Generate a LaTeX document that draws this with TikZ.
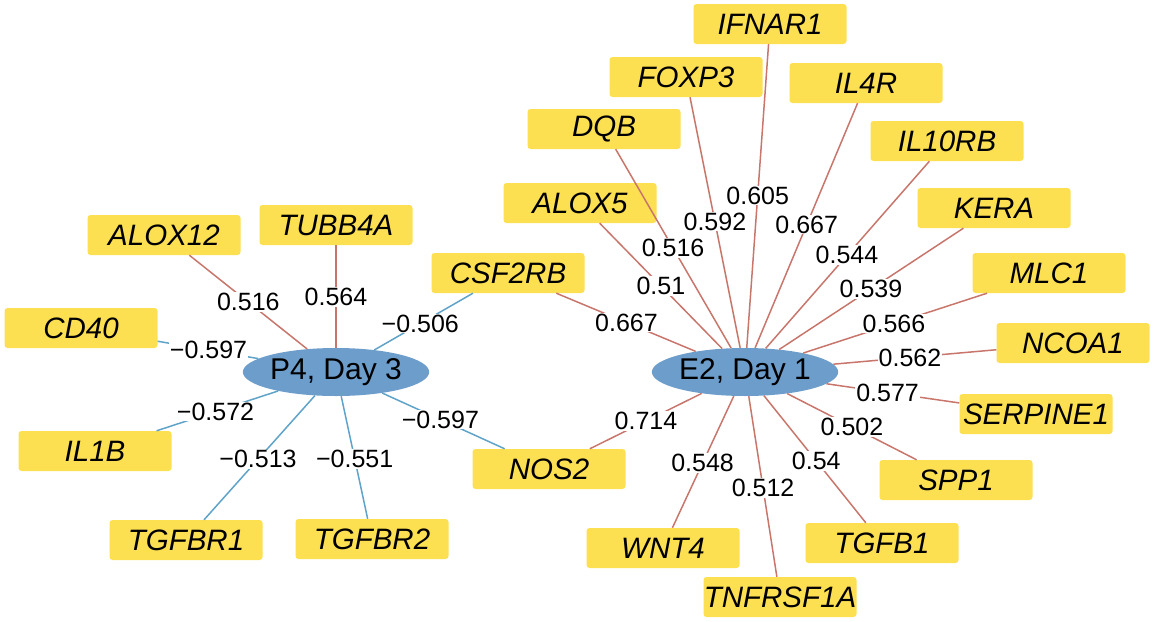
\documentclass[tikz,border=0pt]{standalone}
\usepackage{fontspec}
\setmainfont{Liberation Sans}
\usetikzlibrary{calc,shapes.geometric}
\definecolor{boxy}{RGB}{252,224,82}
\definecolor{elb}{RGB}{108,157,203}
\definecolor{posl}{RGB}{200,118,108}
\definecolor{negl}{RGB}{95,163,201}
\tikzset{
  gene/.style={fill=boxy, rounded corners=3pt, minimum width=153pt, minimum height=40pt, inner sep=0pt,
    font=\fontsize{29.5}{30}\selectfont\itshape},
  hub/.style={ellipse, fill=elb, minimum width=162pt, minimum height=48pt, inner sep=0pt,
    font=\fontsize{30}{31}\selectfont},
  posedge/.style={draw=posl, line width=1.5pt},
  negedge/.style={draw=negl, line width=1.5pt},
  lbl/.style={fill=white, inner sep=1pt, font=\fontsize{25}{26}\selectfont}
}
\begin{document}
\begin{tikzpicture}[x=1pt,y=-1pt]
\useasboundingbox (0,0) rectangle (1156,621);
% hubs
\node[hub] (p4) at (336,372) {P4, Day 3};
\node[hub] (e2) at (745,372) {E2, Day 1};
% left genes
\node[gene] (alox12) at (164,235) {ALOX12};
\node[gene] (tubb4a) at (336,225) {TUBB4A};
\node[gene] (cd40) at (81,328) {CD40};
\node[gene] (il1b) at (95,451) {IL1B};
\node[gene] (tgfbr1) at (186,540) {TGFBR1};
\node[gene] (tgfbr2) at (372,539) {TGFBR2};
\node[gene] (csf2rb) at (508,273) {CSF2RB};
\node[gene] (nos2) at (549,469) {NOS2};
% right genes
\node[gene] (ifnar1) at (770,24) {IFNAR1};
\node[gene] (foxp3) at (686,77) {FOXP3};
\node[gene] (il4r) at (866,83) {IL4R};
\node[gene] (dqb) at (604,129) {DQB};
\node[gene] (il10rb) at (947,141) {IL10RB};
\node[gene] (alox5) at (580,203) {ALOX5};
\node[gene] (kera) at (994,208) {KERA};
\node[gene] (mlc1) at (1049,273) {MLC1};
\node[gene] (ncoa1) at (1073,343) {NCOA1};
\node[gene] (serpine1) at (1036,414) {SERPINE1};
\node[gene] (spp1) at (956,480) {SPP1};
\node[gene] (tgfb1) at (882,543) {TGFB1};
\node[gene] (wnt4) at (663,548) {WNT4};
\node[gene] (tnfrsf1a) at (780,597) {TNFRSF1A};
% edges P4
\draw[posedge] (p4) -- (alox12);
\draw[posedge] (p4) -- (tubb4a);
\draw[negedge] (p4) -- (cd40);
\draw[negedge] (p4) -- (il1b);
\draw[negedge] (p4) -- (tgfbr1);
\draw[negedge] (p4) -- (tgfbr2);
\draw[negedge] (p4) -- (csf2rb);
\draw[negedge] (p4) -- (nos2);
% edges E2
\foreach \g in {csf2rb,nos2,alox5,dqb,foxp3,ifnar1,il4r,il10rb,kera,mlc1,ncoa1,serpine1,spp1,tgfb1,tnfrsf1a,wnt4}
  \draw[posedge] (e2) -- (\g);
% labels P4
\node[lbl] at ($(p4)!0.51!(alox12)$) {0.516};
\node[lbl] at ($(p4)!0.51!(tubb4a)$) {0.564};
\node[lbl] at ($(p4)!0.50!(cd40)$) {−0.597};
\node[lbl] at ($(p4)!0.50!(il1b)$) {−0.572};
\node[lbl] at ($(p4)!0.52!(tgfbr1)$) {−0.513};
\node[lbl] at ($(p4)!0.52!(tgfbr2)$) {−0.551};
\node[lbl] at ($(p4)!0.49!(csf2rb)$) {−0.506};
\node[lbl] at ($(p4)!0.49!(nos2)$) {−0.597};
% labels E2
\node[lbl] at ($(e2)!0.50!(csf2rb)$) {0.667};
\node[lbl] at ($(e2)!0.505!(nos2)$) {0.714};
\node[lbl] at ($(e2)!0.51!(alox5)$) {0.51};
\node[lbl] at ($(e2)!0.51!(dqb)$) {0.516};
\node[lbl] at ($(e2)!0.51!(foxp3)$) {0.592};
\node[lbl] at ($(e2)!0.507!(ifnar1)$) {0.605};
\node[lbl] at ($(e2)!0.51!(il4r)$) {0.667};
\node[lbl] at ($(e2)!0.505!(il10rb)$) {0.544};
\node[lbl] at ($(e2)!0.506!(kera)$) {0.539};
\node[lbl] at ($(e2)!0.49!(mlc1)$) {0.566};
\node[lbl] at ($(e2)!0.503!(ncoa1)$) {0.562};
\node[lbl] at ($(e2)!0.49!(serpine1)$) {0.577};
\node[lbl] at ($(e2)!0.507!(spp1)$) {0.502};
\node[lbl] at ($(e2)!0.52!(tgfb1)$) {0.54};
\node[lbl] at ($(e2)!0.515!(tnfrsf1a)$) {0.512};
\node[lbl] at ($(e2)!0.517!(wnt4)$) {0.548};
\end{tikzpicture}
\end{document}
